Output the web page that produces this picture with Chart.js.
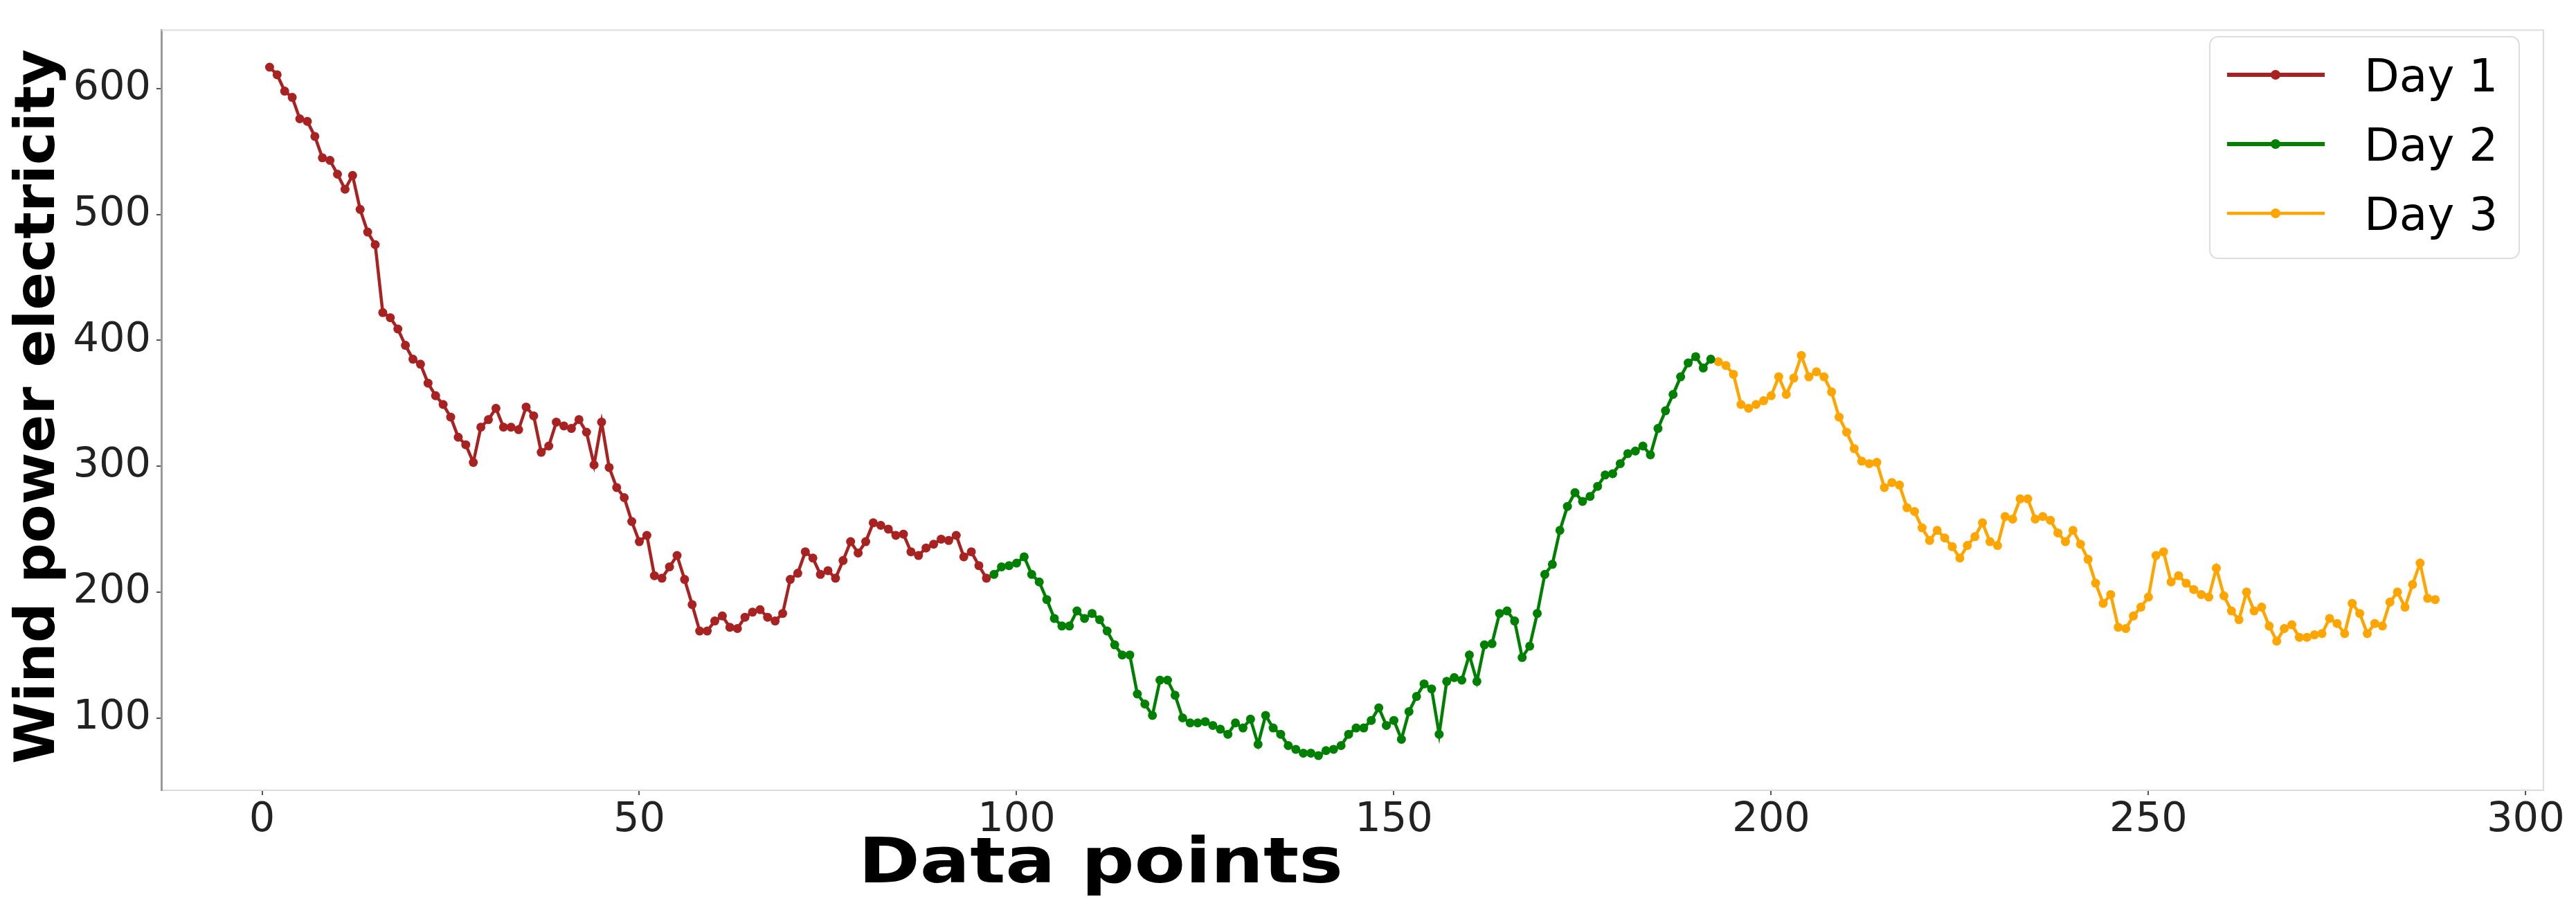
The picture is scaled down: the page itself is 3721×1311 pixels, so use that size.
<!DOCTYPE html>
<html lang="en">
<head>
  <meta charset="UTF-8">
  <title>Wind power electricity</title>
  <script src="https://cdn.jsdelivr.net/npm/chart.js"></script>
  <style>
    body {
      margin: 0;
      background: #ffffff;
    }
    #wind {
      display: block;
    }
  </style>
</head>
<body>
  <canvas id="wind" width="3721" height="1311"></canvas>

  <script>
    // values, one per data point (96 per day)
    const day1 = [
      617, 611, 598, 593, 576, 574, 562, 545, 543, 532, 520, 531, 504, 486, 476, 422,
      418, 409, 396, 385, 381, 366, 356, 349, 339, 323, 317, 303, 331, 337, 346, 331,
      331, 329, 347, 340, 311, 316, 335, 332, 330, 337, 327, 301, 335, 299, 283, 275,
      256, 240, 245, 213, 211, 220, 229, 210, 190, 169, 169, 177, 181, 172, 171, 180,
      184, 186, 180, 177, 183, 210, 215, 232, 227, 214, 217, 211, 225, 240, 231, 240,
      255, 253, 250, 245, 246, 232, 229, 235, 238, 242, 241, 245, 228, 232, 221, 211
    ];
    const day2 = [
      214, 220, 221, 223, 228, 214, 208, 194, 179, 173, 173, 185, 179, 183, 178, 169,
      158, 150, 150, 119, 111, 102, 130, 130, 118, 100, 96, 96, 97, 94, 91, 87,
      96, 92, 99, 79, 102, 92, 87, 78, 75, 72, 72, 70, 74, 75, 78, 87,
      92, 92, 98, 108, 94, 98, 83, 105, 117, 127, 123, 87, 129, 132, 130, 150,
      129, 158, 159, 183, 185, 177, 148, 157, 183, 214, 222, 249, 268, 279, 272, 276,
      284, 293, 294, 302, 310, 312, 316, 309, 330, 344, 357, 371, 382, 387, 378, 385
    ];
    const day3 = [
      383, 380, 373, 349, 346, 349, 352, 356, 371, 357, 370, 388, 371, 375, 371, 359,
      339, 327, 314, 304, 302, 303, 283, 287, 285, 267, 264, 251, 241, 249, 243, 236,
      227, 237, 244, 255, 240, 237, 260, 258, 274, 274, 258, 260, 257, 247, 240, 249,
      238, 226, 207, 191, 198, 172, 171, 181, 188, 196, 229, 232, 208, 213, 207, 202,
      198, 196, 219, 197, 185, 178, 200, 185, 188, 173, 161, 171, 174, 164, 164, 166,
      167, 179, 175, 167, 191, 183, 167, 175, 173, 192, 200, 188, 206, 223, 195, 194
    ];
    const dayLabels = ["Day 1", "Day 2", "Day 3"];
    const dayColors = ["#a82222", "#008000", "#ffa500"];
    const xTicks = [0, 50, 100, 150, 200, 250, 300];
    const yTicks = [100, 200, 300, 400, 500, 600];

    // data point number runs on from one day to the next
    function toPoints(values, start) {
      return values.map((v, k) => ({ x: start + k + 1, y: v }));
    }

    const days = [day1, day2, day3];
    let start = 0;
    const datasets = days.map((values, d) => {
      const ds = {
        label: dayLabels[d],
        data: toPoints(values, start),
        borderColor: dayColors[d],
        backgroundColor: dayColors[d],
        pointBackgroundColor: dayColors[d],
        borderWidth: 4.5,
        pointRadius: 6.5,
        pointBorderWidth: 0,
        tension: 0
      };
      start += values.length;
      return ds;
    });

    // spines, axis titles and the legend box
    const decor = {
      id: "decor",
      afterDraw(chart) {
        const ctx = chart.ctx;
        const a = chart.chartArea;
        ctx.save();

        ctx.strokeStyle = "#dcdcdc";
        ctx.lineWidth = 2;
        ctx.beginPath();
        ctx.moveTo(a.left, a.top);
        ctx.lineTo(a.right, a.top);
        ctx.lineTo(a.right, a.bottom);
        ctx.stroke();

        ctx.fillStyle = "#000000";
        ctx.font = "bold 90px 'DejaVu Sans'";
        ctx.textAlign = "center";
        ctx.textBaseline = "alphabetic";
        ctx.save();
        ctx.translate(1590, 1274);
        ctx.scale(1.19, 1);
        ctx.fillText("Data points", 0, 0);
        ctx.restore();

        ctx.save();
        ctx.font = "bold 81px 'DejaVu Sans'";
        ctx.translate(78, 587);
        ctx.rotate(-Math.PI / 2);
        ctx.fillText("Wind power electricity", 0, 0);
        ctx.restore();

        // legend
        ctx.fillStyle = "rgba(255,255,255,0.85)";
        ctx.strokeStyle = "#dddddd";
        ctx.lineWidth = 2;
        ctx.beginPath();
        ctx.roundRect(3192, 53, 447, 320, 12);
        ctx.fill();
        ctx.stroke();

        const widths = [6, 6, 4.5];
        chart.data.datasets.forEach((ds, i) => {
          const y = 108 + i * 100;
          ctx.strokeStyle = ds.borderColor;
          ctx.lineWidth = widths[i];
          ctx.beginPath();
          ctx.moveTo(3217, y);
          ctx.lineTo(3358, y);
          ctx.stroke();
          ctx.fillStyle = ds.borderColor;
          ctx.beginPath();
          ctx.arc(3287, y, 7, 0, Math.PI * 2);
          ctx.fill();
          ctx.fillStyle = "#000000";
          ctx.font = "66px 'DejaVu Sans'";
          ctx.textAlign = "left";
          ctx.fillText(ds.label, 3415, y + 24);
        });

        ctx.restore();
      }
    };

    new Chart(document.getElementById("wind"), {
      type: "line",
      data: { datasets: datasets },
      options: {
        responsive: false,
        devicePixelRatio: 1,
        animation: false,
        layout: { padding: { left: 0, right: 47, top: 18, bottom: 0 } },
        plugins: {
          legend: { display: false },
          tooltip: { enabled: false }
        },
        scales: {
          x: {
            type: "linear",
            min: -13.35,
            max: 302.35,
            afterBuildTicks: s => { s.ticks = xTicks.map(v => ({ value: v })); },
            afterFit: s => { s.height = 170; },
            ticks: {
              color: "#222222",
              font: { family: "'DejaVu Sans'", size: 59 },
              padding: 1,
              maxRotation: 0,
              autoSkip: false
            },
            grid: {
              drawOnChartArea: false,
              drawTicks: true,
              tickLength: 7,
              color: "#555555",
              lineWidth: 2
            },
            border: { color: "#dcdcdc", width: 2 }
          },
          y: {
            min: 42.5,
            max: 646.5,
            afterBuildTicks: s => { s.ticks = yTicks.map(v => ({ value: v })); },
            afterFit: s => { s.width = 233; },
            ticks: {
              color: "#222222",
              font: { family: "'DejaVu Sans'", size: 59 },
              padding: 8,
              autoSkip: false
            },
            grid: {
              drawOnChartArea: false,
              drawTicks: true,
              tickLength: 7,
              color: "#555555",
              lineWidth: 2
            },
            border: { color: "#999999", width: 3 }
          }
        }
      },
      plugins: [decor]
    });
  </script>
</body>
</html>
